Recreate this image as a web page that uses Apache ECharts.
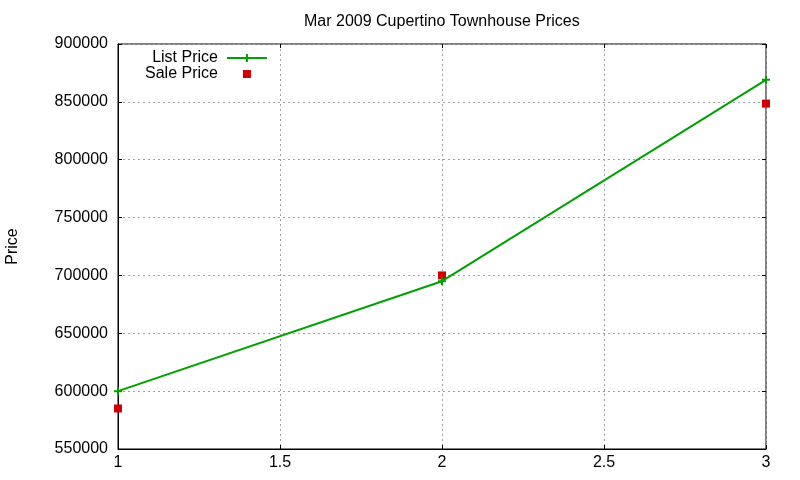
<!DOCTYPE html>
<html lang="en">
<head>
    <meta charset="utf-8">
    <title>Mar 2009 Cupertino Townhouse Prices</title>
    <script src="https://cdn.jsdelivr.net/npm/echarts@6/dist/echarts.min.js"></script>
    <style>
        html, body { margin: 0; padding: 0; background: #fff; }
        #main { width: 800px; height: 480px; }
    </style>
</head>
<body>
<div id="main"></div>
<script type="text/javascript">
    // data
    var xValues = [1, 2, 3];
    var listPrice = [600000, 695000, 869000];
    var salePrice = [585000, 700000, 848500];

    function pairs(xs, ys) {
        return xs.map(function (x, i) { return [x, ys[i]]; });
    }

    var font = 'Liberation Sans, Arial, sans-serif';
    var green = '#00a000';
    var red = '#d00000';
    var tick = {show: true, inside: true, length: 4, lineStyle: {color: '#000'}};
    var split = {show: true, lineStyle: {color: '#a0a0a0', type: [2, 3], width: 1}};
    var plus = 'path://M0,3L8,3L8,5L0,5Z M3,0L5,0L5,8L3,8Z';

    var myChart = echarts.init(document.getElementById('main'));
    var option = {
        animation: false,
        title: {
            text: 'Mar 2009 Cupertino Townhouse Prices',
            left: 299,
            top: 9,
            textStyle: {fontFamily: font, fontSize: 16, fontWeight: 'normal', color: '#000'}
        },
        legend: {
            orient: 'vertical',
            left: 140,
            top: 45,
            align: 'right',
            itemWidth: 40,
            itemHeight: 8,
            itemGap: 0,
            textStyle: {fontFamily: font, fontSize: 16, color: '#000', lineHeight: 15, padding: [0, 4, 0, 0]},
            data: [
                {
                    name: 'List Price',
                    icon: 'path://M0,3L40,3L40,5L0,5Z M19,0L21,0L21,8L19,8Z',
                    itemStyle: {color: green, opacity: 1, borderWidth: 0}
                },
                {
                    name: 'Sale Price',
                    icon: 'path://M16,0L24,0L24,8L16,8Z',
                    itemStyle: {color: red, opacity: 1, borderWidth: 0}
                }
            ]
        },
        grid: {
            left: 118, right: 34, top: 44, bottom: 31,
            outerBoundsMode: 'none',
            show: true, borderColor: '#000', borderWidth: 1
        },
        xAxis: [{
            type: 'value', min: 1, max: 3, interval: 0.5,
            axisLine: {show: true, lineStyle: {color: '#000'}},
            axisTick: tick,
            splitLine: split,
            axisLabel: {fontFamily: font, fontSize: 16, color: '#000', margin: 6}
        }, {
            type: 'value', position: 'top', min: 1, max: 3, interval: 0.5,
            axisLine: {show: false}, axisTick: tick,
            splitLine: {show: false}, axisLabel: {show: false}
        }],
        yAxis: [{
            type: 'value', min: 550000, max: 900000, interval: 50000,
            name: 'Price', nameLocation: 'middle', nameGap: 97, nameRotate: 90,
            nameTextStyle: {fontFamily: font, fontSize: 16, color: '#000'},
            axisLine: {show: true, lineStyle: {color: '#000'}},
            axisTick: tick,
            splitLine: split,
            axisLabel: {
                fontFamily: font, fontSize: 16, color: '#000', margin: 10,
                formatter: function (v) { return String(v); }
            }
        }, {
            type: 'value', position: 'right', min: 550000, max: 900000, interval: 50000,
            axisLine: {show: false}, axisTick: tick,
            splitLine: {show: false}, axisLabel: {show: false}
        }],
        series: [
            {
                name: 'List Price',
                type: 'line',
                data: pairs(xValues, listPrice),
                color: green,
                lineStyle: {width: 2, color: green},
                symbol: plus,
                symbolSize: 8,
                itemStyle: {color: green, opacity: 1}
            },
            {
                name: 'Sale Price',
                type: 'scatter',
                data: pairs(xValues, salePrice),
                color: red,
                symbol: 'rect',
                symbolSize: 8,
                itemStyle: {color: red, opacity: 1}
            }
        ]
    };
    myChart.setOption(option);
</script>
</body>
</html>
